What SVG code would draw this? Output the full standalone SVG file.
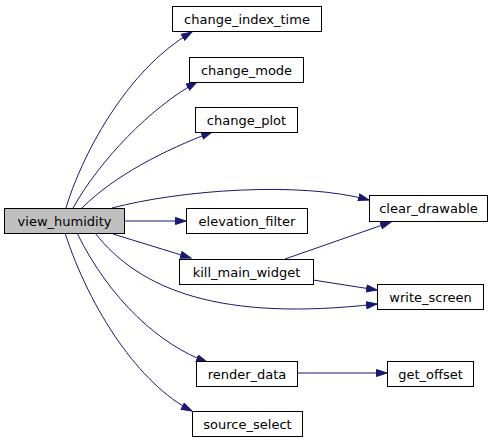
<svg xmlns="http://www.w3.org/2000/svg" width="496" height="443" viewBox="0 0 496 443">
<style>
.n rect{fill:#ffffff;stroke:#000000;stroke-width:1}
#view_humidity rect{fill:#bfbfbf}
.n text{font-family:"DejaVu Sans",sans-serif;font-size:13px;text-anchor:middle;fill:#000000}
.e path{fill:none;stroke:#191970;stroke-width:1}
</style>
<defs>
<marker id="ah" markerUnits="userSpaceOnUse" markerWidth="12" markerHeight="9" refX="11" refY="4" orient="auto">
<path d="M0.5,0.5 L11,4 L0.5,7.5 z" fill="#191970" stroke="#191970" stroke-width="1"/>
</marker>
</defs>
<rect width="496" height="443" fill="#ffffff"/>
<g id="edges" class="e">
<path marker-end="url(#ah)" d="M66,208 C80,160 125,70 192,32"/>
<path marker-end="url(#ah)" d="M73,208 C100,160 150,108 197,82"/>
<path marker-end="url(#ah)" d="M82,208 C115,175 165,150 212,132"/>
<path marker-end="url(#ah)" d="M112,208 C180,190 300,181 369,200"/>
<path marker-end="url(#ah)" d="M124,221 L186,221"/>
<path marker-end="url(#ah)" d="M113,234 L191,258"/>
<path marker-end="url(#ah)" d="M95,233 C140,290 220,322 377,304"/>
<path marker-end="url(#ah)" d="M77,233 C110,300 160,345 207,362"/>
<path marker-end="url(#ah)" d="M65,233 C90,310 140,385 192,411"/>
<path marker-end="url(#ah)" d="M285,259 L391,222"/>
<path marker-end="url(#ah)" d="M313,280 L377,290"/>
<path marker-end="url(#ah)" d="M297,373 L387,373"/>
</g>
<g id="view_humidity" class="n"><rect x="4.5" y="208.5" width="120" height="25"/><text x="64.5" y="225.5">view_humidity</text></g>
<g id="change_index_time" class="n"><rect x="172.5" y="6.5" width="149" height="25"/><text x="247" y="23.5">change_index_time</text></g>
<g id="change_mode" class="n"><rect x="189.5" y="57.5" width="114" height="25"/><text x="246.5" y="74.5">change_mode</text></g>
<g id="change_plot" class="n"><rect x="195.5" y="107.5" width="102" height="25"/><text x="246.5" y="124.5">change_plot</text></g>
<g id="clear_drawable" class="n"><rect x="369.5" y="195.5" width="118" height="26"/><text x="428.5" y="213">clear_drawable</text></g>
<g id="elevation_filter" class="n"><rect x="186.5" y="208.5" width="121" height="25"/><text x="247" y="225.5">elevation_filter</text></g>
<g id="kill_main_widget" class="n"><rect x="179.5" y="259.5" width="134" height="25"/><text x="246.5" y="276.5">kill_main_widget</text></g>
<g id="write_screen" class="n"><rect x="377.5" y="284.5" width="106" height="25"/><text x="430.5" y="301.5">write_screen</text></g>
<g id="render_data" class="n"><rect x="196.5" y="361.5" width="101" height="25"/><text x="247" y="378.5">render_data</text></g>
<g id="get_offset" class="n"><rect x="387.5" y="361.5" width="86" height="25"/><text x="430.5" y="378.5">get_offset</text></g>
<g id="source_select" class="n"><rect x="192.5" y="411.5" width="110" height="25"/><text x="247.5" y="428.5">source_select</text></g>
</svg>
